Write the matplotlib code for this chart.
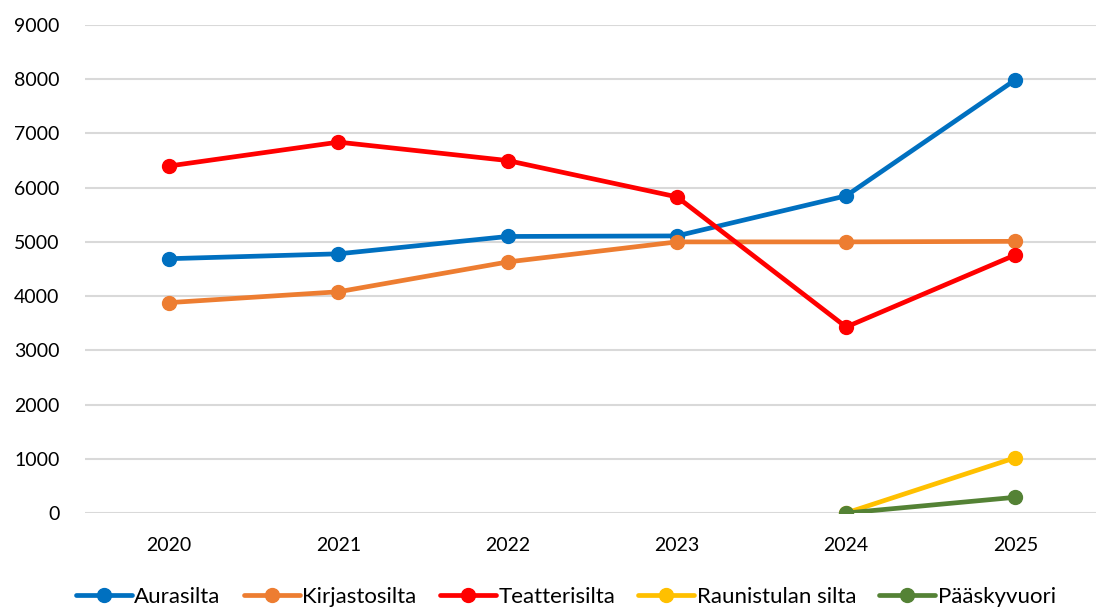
import numpy as np
import matplotlib.pyplot as plt

years = ["2020", "2021", "2022", "2023", "2024", "2025"]
aurasilta = [4690, 4780, 5100, 5110, 5850, 7990]
kirjastosilta = [3880, 4080, 4630, 5000, 5000, 5010]
teatterisilta = [6400, 6840, 6500, 5830, 3430, 4760]
raunistulan = [np.nan, np.nan, np.nan, np.nan, 0, 1020]
paaskyvuori = [np.nan, np.nan, np.nan, np.nan, 0, 290]

names = ["Aurasilta", "Kirjastosilta", "Teatterisilta", "Raunistulan silta", "Pääskyvuori"]
colors = ["#0070C0", "#ED7D31", "#FF0000", "#FFC000", "#548235"]

plt.rcParams['font.family'] = ['Lato', 'DejaVu Sans']

fig = plt.figure(figsize=(10.96, 6.07), dpi=100)
ax = fig.add_axes([84.6 / 1096, 94 / 607, 1015.4 / 1096, 488 / 607])

x = np.arange(len(years))
for vals, name, c in zip([aurasilta, kirjastosilta, teatterisilta, raunistulan, paaskyvuori],
                         names, colors):
    ax.plot(x, vals, color=c, lw=3.4, marker="o", ms=10, label=name,
            solid_capstyle="round", zorder=3)

ax.set_xlim(-0.5, 5.5)
ax.set_ylim(0, 9000)
ax.set_yticks(np.arange(0, 9001, 1000))
ax.set_xticks(x)
ax.set_xticklabels(years)
ax.grid(axis="y", color="#D9D9D9", lw=1.5, zorder=0)
ax.set_axisbelow(True)
for s in ax.spines.values():
    s.set_visible(False)
ax.tick_params(length=0, labelsize=14, colors="black")
ax.tick_params(axis="x", pad=17)
ax.tick_params(axis="y", pad=18)

leg = fig.legend(loc="center", ncol=5, frameon=False, fontsize=16,
                 handlelength=2.5, handletextpad=0.12, columnspacing=1.05,
                 borderaxespad=0)
leg.set_bbox_to_anchor((566 / 1096, 10 / 607), transform=fig.transFigure)

fig.savefig("out.png", dpi=100)
